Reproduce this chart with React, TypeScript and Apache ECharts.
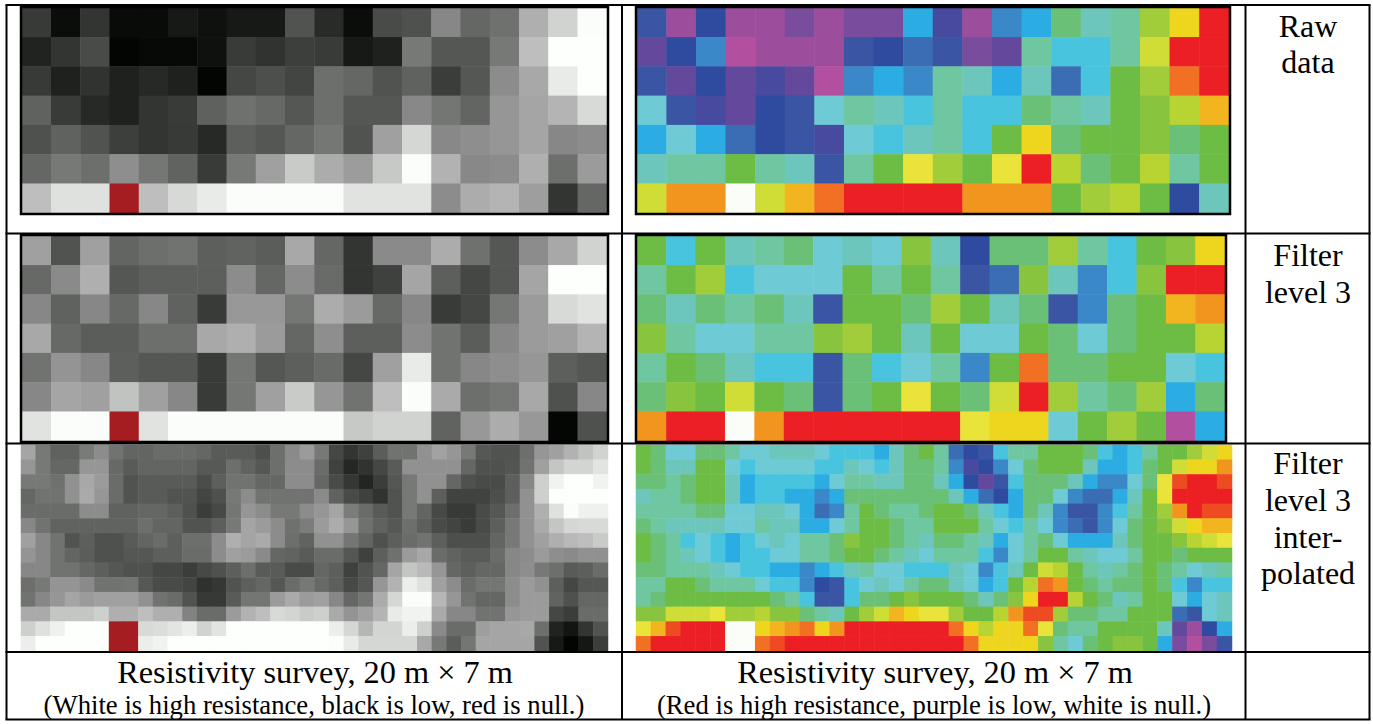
import React, { useEffect, useRef } from "react";
import * as echarts from "echarts";

const N = -1;

const rainbowPalette = [
  "#b34f9f", "#9c4d9b", "#7a4c9d", "#63489b", "#474a9e", "#2f4ba0", "#3955a4", "#3b6db4", "#3b88c8",
  "#2bade3", "#48c4df", "#6ecbd5", "#6dc6bb", "#6ec7a0", "#6bc077", "#6dbd45", "#89c43f", "#a2cd3a",
  "#b8d433", "#cfdd36", "#eae43a", "#eed61f", "#f2b41f", "#f2951f", "#f17024", "#ee4b23", "#ec2024",
];

const grayRaw = [
  [55, 10, 50, 8, 8, 22, 14, 22, 22, 80, 40, 10, 72, 78, 135, 100, 110, 175, 208, 250],
  [32, 50, 72, 2, 6, 6, 14, 56, 48, 60, 56, 22, 30, 118, 84, 84, 118, 190, 252, 252],
  [55, 30, 48, 30, 38, 30, 2, 68, 76, 66, 108, 100, 80, 95, 58, 84, 140, 168, 232, 252],
  [95, 56, 38, 30, 50, 56, 94, 110, 102, 84, 108, 84, 84, 136, 115, 98, 150, 165, 180, 215],
  [78, 95, 80, 60, 50, 55, 38, 92, 84, 100, 116, 80, 160, 212, 136, 142, 150, 165, 135, 140],
  [100, 118, 108, 142, 116, 96, 56, 118, 160, 200, 172, 156, 198, 250, 178, 136, 140, 175, 108, 155],
  [190, 222, 222, N, 190, 214, 232, 250, 250, 250, 250, 224, 224, 224, 140, 172, 180, 158, 50, 100],
];

const colorRaw = [
  [6, 1, 5, 1, 1, 2, 1, 2, 2, 9, 4, 1, 8, 9, 14, 12, 13, 17, 21, 26],
  [3, 5, 8, 0, 1, 1, 1, 6, 5, 7, 6, 2, 3, 13, 10, 10, 13, 19, 26, 26],
  [6, 3, 5, 3, 4, 3, 0, 8, 9, 8, 13, 12, 9, 12, 7, 10, 15, 17, 24, 26],
  [11, 6, 4, 3, 5, 6, 11, 13, 12, 10, 13, 10, 10, 14, 13, 12, 15, 16, 18, 22],
  [9, 11, 9, 7, 5, 6, 4, 11, 10, 12, 13, 10, 15, 21, 14, 15, 15, 16, 14, 15],
  [12, 13, 13, 15, 13, 12, 6, 13, 15, 20, 17, 15, 20, 26, 18, 14, 15, 18, 13, 15],
  [19, 23, 23, N, 19, 22, 24, 26, 26, 26, 26, 23, 23, 23, 15, 17, 18, 15, 5, 12],
];

const grayFilter = [
  [160, 80, 160, 98, 108, 112, 92, 96, 90, 168, 100, 50, 138, 138, 172, 110, 84, 140, 168, 208],
  [102, 138, 175, 84, 92, 92, 92, 140, 100, 140, 104, 50, 62, 165, 92, 68, 84, 165, 252, 252],
  [135, 95, 135, 102, 135, 95, 56, 152, 152, 116, 172, 155, 102, 135, 56, 68, 116, 155, 215, 224],
  [168, 102, 90, 90, 108, 108, 168, 175, 155, 100, 142, 92, 92, 140, 112, 90, 135, 155, 160, 180],
  [112, 148, 135, 92, 84, 84, 56, 116, 84, 92, 104, 68, 160, 232, 112, 135, 142, 150, 92, 84],
  [135, 165, 160, 192, 160, 135, 56, 116, 160, 200, 150, 112, 190, 250, 170, 108, 116, 168, 78, 135],
  [224, 250, 250, N, 224, 250, 250, 250, 250, 250, 250, 198, 208, 208, 96, 152, 172, 152, 3, 78],
];

const colorFilter = [
  [15, 10, 15, 12, 13, 14, 11, 12, 11, 16, 12, 5, 14, 14, 17, 13, 10, 15, 16, 21],
  [13, 15, 17, 10, 11, 11, 11, 15, 13, 15, 13, 6, 7, 16, 12, 8, 10, 16, 26, 26],
  [14, 12, 14, 13, 14, 12, 6, 15, 15, 14, 17, 15, 12, 14, 6, 8, 14, 15, 22, 23],
  [16, 13, 11, 11, 13, 13, 16, 17, 15, 12, 15, 11, 11, 15, 14, 11, 14, 15, 15, 18],
  [13, 15, 14, 12, 10, 10, 6, 14, 10, 11, 13, 8, 15, 24, 14, 14, 15, 15, 11, 10],
  [14, 16, 15, 19, 15, 14, 6, 14, 15, 20, 15, 14, 19, 26, 17, 13, 14, 17, 9, 14],
  [23, 26, 26, N, 23, 26, 26, 26, 26, 26, 26, 20, 21, 21, 11, 15, 17, 15, 0, 9],
];

const grayInterp = [
  [165,118,95,95,120,140,112,98,98,105,105,105,100,88,88,88,76,108,138,155,118,68,50,62,90,112,112,145,162,150,118,85,80,80,108,150,160,178,192,208],
  [150,118,100,100,150,150,102,88,98,98,98,98,86,86,108,96,84,108,140,140,105,62,36,48,68,88,145,145,145,145,100,78,78,82,112,160,195,210,210,225],
  [118,118,110,145,168,155,105,80,88,88,88,88,74,92,112,112,100,100,140,140,100,72,52,34,58,84,118,145,145,100,78,72,72,92,135,205,240,252,252,240],
  [100,112,112,145,170,150,105,80,88,88,80,80,66,78,118,140,112,112,112,112,138,95,72,62,48,80,118,145,92,64,64,64,76,92,145,205,252,252,252,252],
  [105,105,105,105,140,140,95,95,100,100,92,78,58,70,115,150,140,118,118,140,150,165,122,105,88,80,118,98,70,55,55,72,84,108,145,175,222,250,238,238],
  [135,112,96,96,96,96,96,96,108,98,98,80,80,92,118,165,155,140,110,122,155,172,150,110,95,85,108,92,72,65,56,72,92,118,145,170,195,212,215,215],
  [160,135,112,80,92,78,78,88,98,105,92,108,108,140,175,165,170,140,108,96,145,145,115,98,78,92,105,112,92,76,76,76,98,118,145,160,175,185,190,200],
  [148,135,112,98,90,78,78,84,84,92,92,105,105,140,160,155,138,100,96,88,105,105,84,62,92,110,155,168,105,96,88,88,105,135,140,155,142,138,145,145],
  [135,135,112,112,100,92,84,78,78,68,68,58,70,78,92,108,88,88,72,72,100,92,62,80,100,165,195,185,150,100,92,100,100,135,142,118,108,88,92,105],
  [108,118,148,148,138,112,112,115,85,72,72,66,46,52,80,92,100,84,105,118,102,92,70,84,150,178,235,222,160,140,105,115,115,140,155,145,92,68,84,84],
  [112,135,150,165,155,160,160,160,145,112,105,80,54,54,88,115,115,155,170,155,160,135,100,115,172,212,250,250,182,150,112,100,100,140,155,155,96,78,100,100],
  [170,170,195,195,195,205,175,175,190,175,175,130,105,105,155,178,190,215,210,200,205,170,148,160,180,232,240,240,170,135,135,112,112,150,155,155,68,58,105,105],
  [205,222,238,252,252,252,N,N,215,218,226,235,208,225,252,252,252,252,252,252,252,235,212,182,210,210,235,205,138,105,105,158,165,165,168,108,32,18,50,80],
  [235,252,252,252,252,252,N,N,235,240,252,252,252,252,252,252,252,252,252,252,252,250,232,212,212,212,212,168,118,90,115,165,165,165,165,80,22,2,20,58],
];

const colorInterp = [
  [15,14,11,11,14,14,13,11,11,12,12,12,11,10,10,10,9,12,14,15,13,7,5,6,10,13,13,15,15,15,14,10,9,10,13,15,15,17,19,21],
  [15,14,12,12,15,15,11,10,11,11,11,11,10,10,12,11,10,12,14,14,13,8,4,5,8,11,14,15,15,15,12,9,9,10,14,15,19,21,21,23],
  [14,14,13,14,15,15,12,9,10,10,10,10,9,11,13,13,12,12,14,14,12,9,5,3,6,10,14,14,14,12,9,8,8,11,14,20,25,26,26,25],
  [12,13,13,14,15,15,12,9,10,10,9,9,8,9,14,14,14,14,14,14,14,12,9,7,5,9,14,14,11,8,7,7,9,12,15,20,26,26,26,26],
  [13,13,13,13,14,14,11,11,12,12,11,9,7,8,13,15,14,13,13,14,15,15,14,12,10,9,14,12,8,6,6,8,10,13,15,17,23,26,25,25],
  [14,13,12,12,12,12,11,11,13,12,12,9,9,11,13,15,15,14,13,13,15,15,15,13,11,10,13,11,8,7,6,8,11,14,15,16,19,21,22,22],
  [15,14,13,10,11,10,9,10,11,12,11,13,13,14,16,15,15,14,13,12,14,14,13,12,9,11,13,14,11,9,9,9,12,14,15,15,16,18,19,20],
  [15,14,13,12,11,10,9,10,10,11,11,13,13,14,15,15,14,13,12,11,13,13,13,10,8,11,13,15,15,13,12,11,11,13,15,15,14,15,15,15],
  [14,14,13,13,13,12,11,10,10,9,9,8,9,10,12,13,11,11,10,10,10,12,11,8,10,12,15,19,18,15,13,12,13,14,15,14,13,11,12,13],
  [13,13,15,15,14,13,13,13,11,10,10,8,5,6,10,11,12,11,13,14,14,12,11,9,10,15,18,24,23,15,14,13,14,14,15,14,10,8,10,10],
  [13,14,15,15,15,15,15,15,15,14,13,10,6,6,10,14,14,15,16,15,15,15,14,12,14,16,21,26,26,18,15,14,12,13,15,15,11,9,11,12],
  [16,16,19,19,19,20,17,17,18,16,16,14,13,12,15,17,19,22,21,20,20,17,15,15,18,23,25,25,17,14,14,13,13,15,15,15,7,6,11,12],
  [20,22,25,26,26,26,N,N,21,22,23,24,21,23,26,26,26,26,26,26,26,24,21,18,21,21,24,20,14,13,13,15,15,15,15,12,3,1,5,9],
  [24,26,26,26,26,26,N,N,24,25,26,26,26,26,26,26,26,26,26,26,26,26,24,21,21,21,21,16,13,11,14,15,16,16,15,9,2,0,2,6],
];

const serif = "'Liberation Serif', 'Times New Roman', serif";
const grayNull = "#a51c21";
const rainbowNull = "#fbfdf9";

function grayColor(g: number) {
  if (g < 0) return grayNull;
  const t = g < 130 || g > 190 ? 3 : 0;
  return `rgb(${g},${Math.min(255, g + t)},${Math.max(0, g - (t ? 1 : 0))})`;
}

const panels = [
  { rows: grayRaw, kind: "gray", left: 22, top: 8, width: 585, height: 205, frame: true },
  { rows: colorRaw, kind: "color", left: 637, top: 8, width: 592, height: 205, frame: true },
  { rows: grayFilter, kind: "gray", left: 22, top: 236, width: 585, height: 205, frame: true },
  { rows: colorFilter, kind: "color", left: 637, top: 236, width: 588, height: 205, frame: true },
  { rows: grayInterp, kind: "gray", left: 21, top: 445, width: 587, height: 206, frame: false },
  { rows: colorInterp, kind: "color", left: 636, top: 445, width: 596, height: 206, frame: false },
];

const hLines = [5, 233.5, 443.5, 652, 719.5];
const vLines = [6.5, 622, 1245.5, 1369.5];

function centerText(text: string, x: number, y: number, size: number) {
  return {
    type: "text",
    x,
    y,
    z: 20,
    style: { text, fill: "#000", font: `${size}px ${serif}`, textAlign: "center", textVerticalAlign: "middle" },
  };
}

export default function App() {
  const ref = useRef<HTMLDivElement>(null);
  useEffect(() => {
    const chart = echarts.init(ref.current!, undefined, { renderer: "svg" });
    const grid: any[] = [];
    const xAxis: any[] = [];
    const yAxis: any[] = [];
    const series: any[] = [];
    const visualMap: any[] = [];
    panels.forEach((p, i) => {
      const nRows = p.rows.length;
      const nCols = p.rows[0].length;
      grid.push({ left: p.left, top: p.top, width: p.width, height: p.height, show: false });
      xAxis.push({ type: "category", gridIndex: i, data: p.rows[0].map((_, c) => c), show: false });
      yAxis.push({ type: "category", gridIndex: i, data: p.rows.map((_, r) => r), inverse: true, show: false });
      const data: number[][] = [];
      for (let r = 0; r < nRows; r++) for (let c = 0; c < nCols; c++) data.push([c, r, p.rows[r][c]]);
      const levels = Array.from(new Set(p.rows.flat()));
      visualMap.push({
        type: "piecewise",
        show: false,
        seriesIndex: i,
        dimension: 2,
        pieces: levels.map((v) => ({
          value: v,
          color: p.kind === "gray" ? grayColor(v) : v < 0 ? rainbowNull : rainbowPalette[v],
        })),
      });
      series.push({
        type: "heatmap",
        xAxisIndex: i,
        yAxisIndex: i,
        data,
        progressive: 0,
        itemStyle: { borderWidth: 0 },
        emphasis: { disabled: true },
      });
    });
    const lineStyle = { stroke: "#000", lineWidth: 2 };
    const graphics: any[] = [
      ...hLines.map((y) => ({ type: "line", z: 15, shape: { x1: vLines[0] - 1, y1: y, x2: vLines[3] + 1, y2: y }, style: lineStyle })),
      ...vLines.map((x) => ({ type: "line", z: 15, shape: { x1: x, y1: hLines[0], x2: x, y2: hLines[4] }, style: lineStyle })),
      ...panels
        .filter((p) => p.frame)
        .map((p) => ({
          type: "rect",
          z: 16,
          shape: { x: p.left - 1, y: p.top - 1, width: p.width + 2, height: p.height + 2 },
          style: { fill: "none", stroke: "#000", lineWidth: 2.5 },
        })),
      centerText("Raw", 1308, 26, 32),
      centerText("data", 1308, 62, 32),
      centerText("Filter", 1308, 255, 32),
      centerText("level 3", 1308, 292, 32),
      centerText("Filter", 1308, 463, 32),
      centerText("level 3", 1308, 500, 32),
      centerText("inter-", 1308, 537, 32),
      centerText("polated", 1308, 573, 32),
      centerText("Resistivity survey, 20 m × 7 m", 315, 672, 32.3),
      centerText("(White is high resistance, black is low, red is null.)", 314, 705, 26.7),
      centerText("Resistivity survey, 20 m × 7 m", 935, 672, 32.3),
      centerText("(Red is high resistance, purple is low, white is null.)", 934, 705, 26.7),
    ];
    chart.setOption({
      animation: false,
      backgroundColor: "#fff",
      grid,
      xAxis,
      yAxis,
      visualMap,
      series,
      graphic: { elements: graphics },
    });
    return () => chart.dispose();
  }, []);
  return <div ref={ref} style={{ position: "fixed", left: 0, top: 0, width: 1373, height: 724 }} />;
}
